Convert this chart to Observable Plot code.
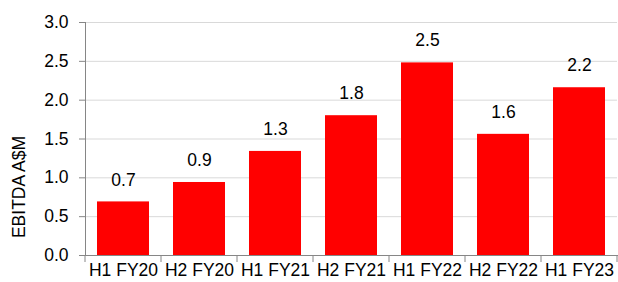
<!DOCTYPE html>
<html>
<head>
<meta charset="utf-8">
<script src="https://cdn.jsdelivr.net/npm/d3@7"></script>
<script src="https://cdn.jsdelivr.net/npm/@observablehq/plot@0.6"></script>
<style>
  html, body { margin: 0; padding: 0; background: #fff; }
  #chart svg { display: block; }
</style>
</head>
<body>
<div id="chart"></div>
<script>
const categories = ["H1 FY20", "H2 FY20", "H1 FY21", "H2 FY21", "H1 FY22", "H2 FY22", "H1 FY23"];
const ebitda = [0.69, 0.94, 1.34, 1.80, 2.48, 1.56, 2.16];
const valueLabels = ["0.7", "0.9", "1.3", "1.8", "2.5", "1.6", "2.2"];
const yTicks = [0, 0.5, 1.0, 1.5, 2.0, 2.5, 3.0];

const data = categories.map((c, i) => ({cat: c, v: ebitda[i], label: valueLabels[i]}));

const W = 618, H = 282, ML = 85, MR = 1, MT = 22, MB = 27;
const FONT = "'Liberation Sans', Arial, sans-serif";
const FS = 17.5;

const chart = Plot.plot({
  width: W, height: H,
  marginLeft: ML, marginRight: MR, marginTop: MT, marginBottom: MB,
  style: {fontFamily: FONT, fontSize: FS + "px", color: "#000", background: "#fff"},
  x: {domain: categories, paddingInner: 0.315, paddingOuter: 0.1575, label: null},
  y: {domain: [0, 3], label: null},
  marks: [
    Plot.gridY(yTicks, {stroke: "#d9d9d9", strokeOpacity: 1, strokeWidth: 1}),
    Plot.barY(data, {x: "cat", y: "v", fill: "#ff0000"}),
    Plot.text(data, {x: "cat", y: "v", text: "label", dy: -22, fill: "#000", fontSize: FS}),
    Plot.frame({anchor: "left", stroke: "#868686"}),
    Plot.frame({anchor: "bottom", stroke: "#868686"}),
    Plot.axisY({ticks: yTicks, tickFormat: d3.format(".1f"), tickSize: 6, tickPadding: 11, stroke: "#868686", fill: "#000", fontSize: FS, label: null}),
    Plot.axisX({tickSize: 0, tickPadding: 8, fill: "#000", fontSize: FS, label: null}),
    // category boundary ticks below the x axis
    Plot.ruleX(categories, {x: d => d, stroke: "#868686",
      render: (index, scales, values, dims) => {
        const x = scales.x;
        const step = x.step(), bw = x.bandwidth();
        const g = d3.create("svg:g").attr("stroke", "#868686");
        const y0 = dims.height - dims.marginBottom;
        const xs = categories.map(c => x(c) + bw / 2 - step / 2);
        xs.push(x(categories[categories.length - 1]) + bw / 2 + step / 2);
        for (const xv of xs) {
          g.append("line").attr("x1", xv).attr("x2", xv).attr("y1", y0).attr("y2", y0 + 7);
        }
        return g.node();
      }}),
    Plot.text(["EBITDA A$M"], {frameAnchor: "left", textAnchor: "middle", dx: -66, dy: 48, rotate: -90, fontSize: FS, fill: "#000"})
  ]
});
document.getElementById("chart").appendChild(chart);
</script>
</body>
</html>
